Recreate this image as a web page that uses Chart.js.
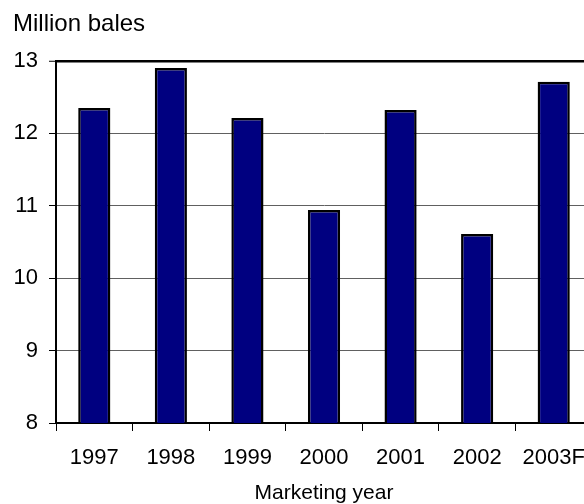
<!DOCTYPE html>
<html>
<head>
<meta charset="utf-8">
<script src="https://cdn.jsdelivr.net/npm/chart.js@4/dist/chart.umd.min.js"></script>
<style>
  html, body { margin: 0; padding: 0; background: #fff; overflow: hidden; }
  #wrap { width: 592px; height: 504px; }
</style>
</head>
<body>
<div id="wrap"><canvas id="chart" width="592" height="504"></canvas></div>
<script>
//chart data
const years = ["1997", "1998", "1999", "2000", "2001", "2002", "2003F"];
const bales = [12.35, 12.9, 12.21, 10.94, 12.32, 10.61, 12.71];
const yTicks = [8, 9, 10, 11, 12, 13];

const family = "Arial, 'Liberation Sans', sans-serif";

new Chart(document.getElementById("chart"), {
  type: "bar",
  data: {
    labels: years,
    datasets: [
      {
        label: "Million bales",
        data: bales,
        backgroundColor: "#000080",
        borderColor: "#000",
        borderWidth: 2.5,
        barPercentage: 0.42,
        categoryPercentage: 1,
      },
    ],
  },
  options: {
    responsive: false,
    animation: false,
    layout: { padding: { left: 13, right: 0, top: 0, bottom: 0 } },
    plugins: {
      legend: { display: false },
      tooltip: { enabled: false },
      title: {
        display: true,
        text: "Million bales",
        align: "start",
        color: "#000",
        font: { family: family, size: 24, weight: "normal" },
        padding: { top: 10, bottom: 22 },
      },
    },
    scales: {
      x: {
        offset: true,
        border: { color: "#000", width: 2 },
        grid: {
          drawOnChartArea: false,
          tickLength: 8,
          tickColor: "#000",
          tickWidth: 1,
        },
        ticks: { color: "#000", font: { family: family, size: 22 }, padding: 14, maxRotation: 0 },
        title: {
          display: true,
          text: "Marketing year",
          color: "#000",
          font: { family: family, size: 21, lineHeight: 1.05 },
          padding: { top: 0, bottom: 0 },
        },
        afterFit: (scale) => {
          scale.height = 81;
          // the plot runs past the right edge, as in the source
          scale.paddingLeft = 0;
          scale.paddingRight = 0;
        },
      },
      y: {
        min: 8,
        max: 13,
        border: { color: "#000", width: 2 },
        grid: {
          color: (ctx) => (ctx.tick && ctx.tick.value === 13 ? "#000" : "#606060"),
          lineWidth: (ctx) => (ctx.tick && ctx.tick.value === 13 ? 2.5 : 1),
          tickLength: 7,
          tickColor: "#000",
          tickWidth: 1,
        },
        afterBuildTicks: (scale) => {
          scale.ticks = yTicks.map((v) => ({ value: v }));
        },
        ticks: { color: "#000", font: { family: family, size: 22 }, padding: 11 },
        afterFit: (scale) => {
          scale.width = 43;
        },
      },
    },
  },
});
</script>
</body>
</html>
